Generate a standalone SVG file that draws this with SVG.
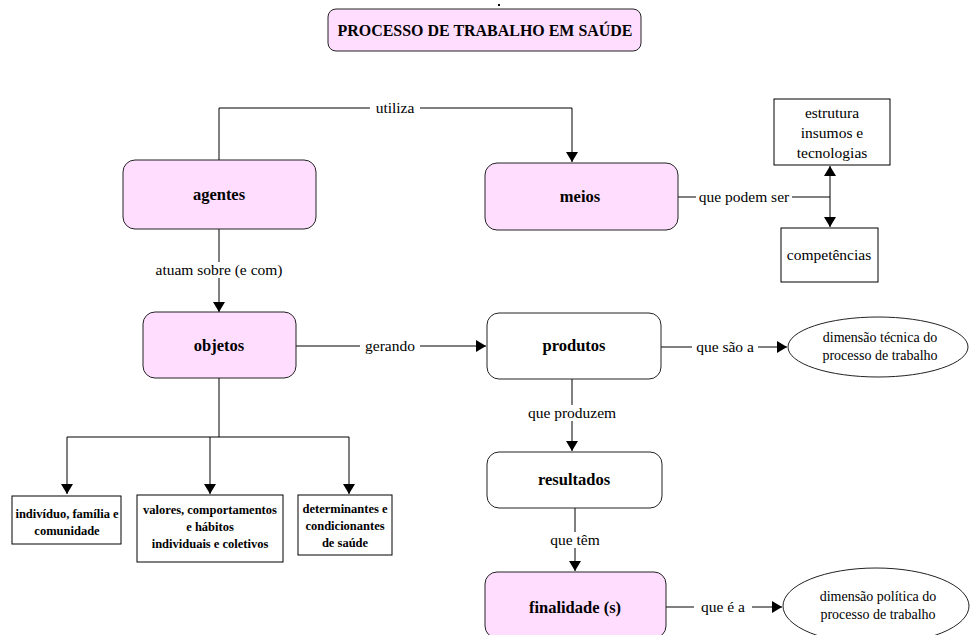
<svg xmlns="http://www.w3.org/2000/svg" width="970" height="635" viewBox="0 0 970 635">
<style>
.pink{fill:#FFDDFF;stroke:#222;stroke-width:1}
.white{fill:#fff;stroke:#222;stroke-width:1}
.sq{fill:#fff;stroke:#000;stroke-width:1}
.ln{fill:none;stroke:#000;stroke-width:1}
.nl{font-family:"Liberation Serif",serif;font-weight:bold;font-size:16.5px;fill:#000;text-anchor:middle}
.cl{font-family:"Liberation Serif",serif;font-size:15.5px;fill:#000;text-anchor:middle}
.sl{font-family:"Liberation Serif",serif;font-weight:bold;font-size:12.5px;fill:#000;text-anchor:middle}
.el{font-family:"Liberation Serif",serif;font-size:14px;fill:#000;text-anchor:middle}
.rl{font-family:"Liberation Serif",serif;font-size:15.5px;fill:#000;text-anchor:middle}
.lbg{fill:#fff}
</style>
<defs>
<marker id="ah" markerWidth="10" markerHeight="12" refX="10" refY="6" orient="auto" markerUnits="userSpaceOnUse">
<path d="M0,0 L10,6 L0,12 Z" fill="#000"/>
</marker>
</defs>
<rect x="498" y="4" width="2" height="2" fill="#000"/>
<g id="title"><rect class="pink" x="328" y="9" width="313" height="42" rx="8"/><text class="nl" x="485" y="36" textLength="295" lengthAdjust="spacingAndGlyphs">PROCESSO  DE TRABALHO EM SAÚDE</text></g>
<g id="connectors">
<path class="ln" d="M219,160 V108 H572 V162" marker-end="url(#ah)"/>
<rect class="lbg" x="370" y="100" width="50" height="16"/>
<text class="cl" x="395" y="113">utiliza</text>
<path class="ln" d="M678,197 H830"/>
<path class="ln" d="M830,197 V166" marker-end="url(#ah)"/>
<path class="ln" d="M830,197 V227" marker-end="url(#ah)"/>
<rect class="lbg" x="696" y="189" width="96" height="16"/>
<text class="cl" x="744" y="202">que podem ser</text>
<path class="ln" d="M219,229 V312" marker-end="url(#ah)"/>
<rect class="lbg" x="148" y="262" width="142" height="16"/>
<text class="cl" x="219" y="275">atuam sobre (e com)</text>
<path class="ln" d="M296,346 H486" marker-end="url(#ah)"/>
<rect class="lbg" x="360" y="338" width="60" height="16"/>
<text class="cl" x="390" y="351">gerando</text>
<path class="ln" d="M661,347 H787" marker-end="url(#ah)"/>
<rect class="lbg" x="692" y="339" width="66" height="16"/>
<text class="cl" x="725" y="352">que são a</text>
<path class="ln" d="M219,378 V437 M67,437 H349"/>
<path class="ln" d="M67,437 V494" marker-end="url(#ah)"/>
<path class="ln" d="M210,437 V494" marker-end="url(#ah)"/>
<path class="ln" d="M349,437 V494" marker-end="url(#ah)"/>
<path class="ln" d="M572,379 V451" marker-end="url(#ah)"/>
<rect class="lbg" x="524" y="405" width="96" height="16"/>
<text class="cl" x="572" y="418">que produzem</text>
<path class="ln" d="M575,508 V571" marker-end="url(#ah)"/>
<rect class="lbg" x="544" y="532" width="62" height="16"/>
<text class="cl" x="575" y="545">que têm</text>
<path class="ln" d="M666,607 H782" marker-end="url(#ah)"/>
<rect class="lbg" x="694" y="599" width="58" height="16"/>
<text class="cl" x="723" y="612">que é a</text>
</g>
<g id="agentes"><rect class="pink" x="123" y="160" width="193" height="69" rx="12"/><text class="nl" x="219" y="200">agentes</text></g>
<g id="meios"><rect class="pink" x="485" y="163" width="193" height="67" rx="12"/><text class="nl" x="580" y="202">meios</text></g>
<g id="estrutura"><rect class="sq" x="774" y="99" width="116" height="66"/><text class="rl" x="832" y="118">estrutura</text><text class="rl" x="832" y="138">insumos e</text><text class="rl" x="832" y="158">tecnologias</text></g>
<g id="competencias"><rect class="sq" x="781" y="228" width="97" height="54"/><text class="rl" x="829" y="260">competências</text></g>
<g id="objetos"><rect class="pink" x="143" y="312" width="153" height="66" rx="12"/><text class="nl" x="219" y="351">objetos</text></g>
<g id="produtos"><rect class="white" x="487" y="313" width="174" height="66" rx="12"/><text class="nl" x="574" y="351">produtos</text></g>
<g id="dimensao-tecnica"><ellipse class="white" cx="878" cy="347" rx="90" ry="30"/><text class="el" x="880" y="342">dimensão técnica do</text><text class="el" x="880" y="360">processo  de trabalho</text></g>
<g id="individuo"><rect class="sq" x="12" y="496" width="109" height="48"/><text class="sl" x="67" y="518">indivíduo, família e</text><text class="sl" x="67" y="535">comunidade</text></g>
<g id="valores"><rect class="sq" x="137" y="495" width="146" height="67"/><text class="sl" x="210" y="514">valores, comportamentos</text><text class="sl" x="210" y="531">e hábitos</text><text class="sl" x="210" y="548">individuais e coletivos</text></g>
<g id="determinantes"><rect class="sq" x="298" y="495" width="94" height="60"/><text class="sl" x="345" y="513">determinantes  e</text><text class="sl" x="345" y="530">condicionantes</text><text class="sl" x="345" y="547">de saúde</text></g>
<g id="resultados"><rect class="white" x="487" y="452" width="175" height="56" rx="12"/><text class="nl" x="574" y="485">resultados</text></g>
<g id="finalidade"><rect class="pink" x="485" y="572" width="181" height="66" rx="12"/><text class="nl" x="575" y="613">finalidade (s)</text></g>
<g id="dimensao-politica"><ellipse class="white" cx="876" cy="606" rx="93" ry="38"/><text class="el" x="878" y="601">dimensão política do</text><text class="el" x="878" y="619">processo  de trabalho</text></g>
</svg>
